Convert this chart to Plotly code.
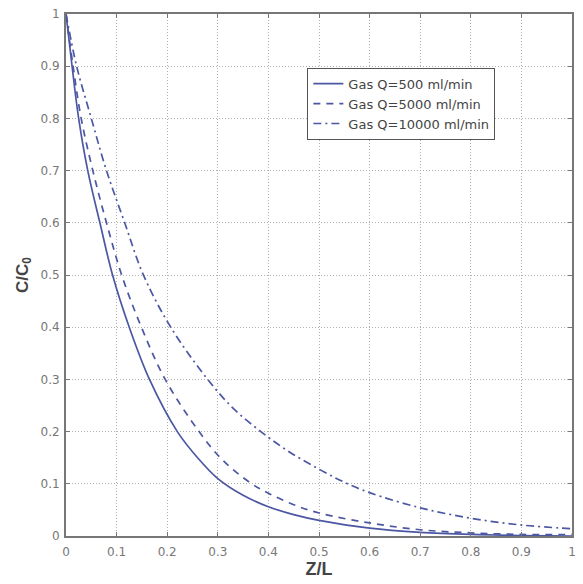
import plotly.graph_objects as go

x_500 = [0, 0.012, 0.025, 0.043, 0.067, 0.092, 0.125, 0.165, 0.22, 0.26, 0.3, 0.35, 0.4, 0.45, 0.5, 0.6, 0.7, 0.8, 0.9, 1.0]
y_500 = [1.0, 0.9, 0.8, 0.7, 0.6, 0.5, 0.4, 0.3, 0.2, 0.15, 0.11, 0.078, 0.056, 0.041, 0.03, 0.015, 0.007, 0.003, 0.001, 0.0]

x_5000 = [0, 0.014, 0.03, 0.053, 0.08, 0.11, 0.149, 0.196, 0.263, 0.31, 0.367, 0.4, 0.45, 0.5, 0.6, 0.7, 0.8, 0.9, 1.0]
y_5000 = [1.0, 0.9, 0.8, 0.7, 0.6, 0.5, 0.4, 0.3, 0.2, 0.145, 0.1, 0.082, 0.06, 0.044, 0.025, 0.012, 0.006, 0.003, 0.003]

x_10000 = [0, 0.021, 0.05, 0.08, 0.116, 0.153, 0.207, 0.28, 0.33, 0.385, 0.44, 0.5, 0.55, 0.6, 0.7, 0.8, 0.9, 1.0]
y_10000 = [1.0, 0.9, 0.8, 0.7, 0.6, 0.5, 0.4, 0.3, 0.245, 0.2, 0.162, 0.128, 0.103, 0.083, 0.054, 0.034, 0.021, 0.014]

series_names = ["Gas Q=500 ml/min", "Gas Q=5000 ml/min", "Gas Q=10000 ml/min"]
tick_vals = [0, 0.1, 0.2, 0.3, 0.4, 0.5, 0.6, 0.7, 0.8, 0.9, 1]
tick_text = ["0", "0.1", "0.2", "0.3", "0.4", "0.5", "0.6", "0.7", "0.8", "0.9", "1"]

LINE = "#4c57a3"
fig = go.Figure()
for xs, ys, name, dash in [(x_500, y_500, series_names[0], "solid"),
                           (x_5000, y_5000, series_names[1], "7px,6px"),
                           (x_10000, y_10000, series_names[2], "8px,4px,2px,4px")]:
    fig.add_trace(go.Scatter(x=xs, y=ys, name=name, mode="lines",
                             line=dict(color=LINE, width=1.7, dash=dash, shape="spline", smoothing=1.0)))

axis_common = dict(
    range=[0, 1], tickvals=tick_vals, ticktext=tick_text,
    showgrid=True, gridcolor="#b0b0b0", griddash="1px,2px", gridwidth=1,
    showline=True, linecolor="#777777", linewidth=2, mirror="ticks",
    ticks="inside", ticklen=4, tickcolor="#777777",
    tickfont=dict(family="DejaVu Sans", size=12, color="#777777"),
    zeroline=False,
)
fig.update_xaxes(**axis_common, ticklabelstandoff=4,
                 title=dict(text="<b>Z/L</b>", font=dict(family="Liberation Sans", size=18, color="#444444"), standoff=4))
fig.update_yaxes(**axis_common, ticklabelstandoff=2,
                 title=dict(text="<b>C/C<sub>0</sub></b>", font=dict(family="Liberation Sans", size=17, color="#444444"), standoff=8))

fig.update_layout(
    width=583, height=584,
    margin=dict(l=66, r=7, t=10, b=48),
    plot_bgcolor="white", paper_bgcolor="white",
    showlegend=True,
    legend=dict(x=0.477, y=0.897, xanchor="left", yanchor="top",
                bgcolor="white", bordercolor="#555555", borderwidth=1,
                font=dict(family="DejaVu Sans", size=13, color="#444444"),
                tracegroupgap=0),
)
fig.write_html("out.html")
